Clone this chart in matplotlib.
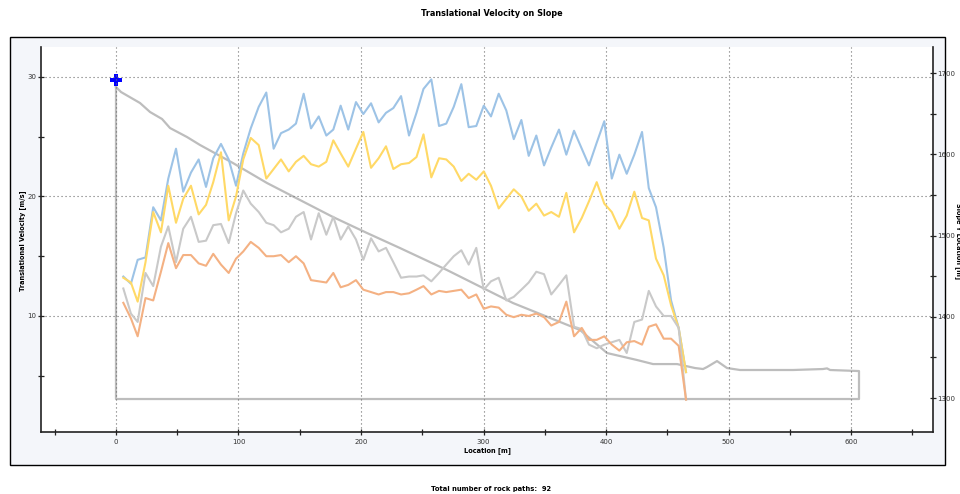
import matplotlib
matplotlib.use("Agg")
import matplotlib.pyplot as plt
from matplotlib.patches import Rectangle
import numpy as np

plt.rcParams['font.family'] = ['DejaVu Sans']

# ---- data ----
location = [6.0, 12.2, 17.7, 24.1, 30.4, 36.7, 42.7, 49.0, 54.9, 61.2,
            67.5, 73.5, 79.4, 85.7, 92.0, 98.0, 103.9, 110.0, 116.5, 122.7,
            128.7, 134.7, 141.0, 146.9, 153.2, 159.2, 165.5, 171.7, 177.4, 183.4,
            189.6, 195.9, 201.9, 208.2, 214.4, 220.4, 226.4, 232.7, 239.2, 245.3,
            251.0, 257.4, 263.7, 269.6, 275.7, 281.9, 287.9, 294.1, 300.2, 306.1,
            312.4, 318.6, 324.7, 330.9, 336.9, 343.1, 349.4, 355.3, 361.6, 367.6,
            373.9, 380.2, 386.1, 392.4, 398.6, 404.7, 410.9, 416.9, 423.1, 429.4,
            434.9, 440.8, 447.1, 453.1, 459.3, 465.3]

vel_blue = [13.3, 12.7, 14.7, 14.9, 19.1, 18.0, 21.5, 24.0, 20.4, 22.0,
            23.1, 20.8, 23.2, 24.4, 23.1, 20.9, 23.6, 25.7, 27.5, 28.7,
            24.0, 25.3, 25.6, 26.1, 28.6, 25.7, 26.7, 25.1, 25.6, 27.6,
            25.6, 27.9, 26.9, 27.8, 26.2, 27.0, 27.4, 28.4, 25.1, 27.0,
            29.0, 29.8, 25.9, 26.1, 27.5, 29.4, 25.8, 25.9, 27.6, 26.7,
            28.6, 27.2, 24.8, 26.4, 23.4, 25.1, 22.6, 24.1, 25.6, 23.5,
            25.5, 24.0, 22.6, 24.5, 26.3, 21.5, 23.5, 21.9, 23.5, 25.4,
            20.7, 19.1, 15.7, 11.3, 9.0, 5.3]

vel_yellow = [13.2, 12.8, 11.2, 14.5, 18.7, 17.0, 20.9, 17.8, 19.8, 20.9,
              18.5, 19.3, 21.2, 23.7, 18.0, 20.0, 23.1, 24.9, 24.3, 21.5,
              22.3, 23.1, 22.1, 22.9, 23.4, 22.7, 22.5, 22.9, 24.7, 23.6,
              22.5, 24.0, 25.4, 22.4, 23.2, 24.2, 22.3, 22.7, 22.8, 23.3,
              25.2, 21.6, 23.2, 23.1, 22.5, 21.3, 21.9, 21.4, 22.1, 20.9,
              19.0, 19.8, 20.6, 20.0, 18.8, 19.4, 18.4, 18.7, 18.3, 20.3,
              17.0, 18.2, 19.6, 21.2, 19.4, 18.7, 17.3, 18.4, 20.4, 18.2,
              18.0, 14.8, 13.4, 10.9, 9.0, 5.3]

vel_gray = [12.3, 10.2, 9.5, 13.6, 12.5, 15.8, 17.5, 14.5, 17.3, 18.3,
            16.2, 16.3, 17.6, 17.7, 16.1, 18.6, 20.5, 19.4, 18.7, 17.8,
            17.6, 17.0, 17.3, 18.3, 18.7, 16.4, 18.6, 16.8, 18.3, 16.4,
            17.5, 16.4, 14.7, 16.5, 15.4, 15.7, 14.5, 13.2, 13.3, 13.3,
            13.4, 12.9, 13.6, 14.3, 15.0, 15.5, 14.3, 15.7, 12.2, 12.9,
            13.2, 11.3, 11.6, 12.2, 12.8, 13.7, 13.5, 11.8, 12.6, 13.4,
            9.1, 8.9, 7.6, 7.3, 7.6, 7.8, 8.0, 6.9, 9.5, 9.7,
            12.1, 10.8, 10.0, 10.0, 9.0, 3.0]

vel_orange = [11.1, 9.8, 8.3, 11.5, 11.3, 13.7, 16.1, 14.0, 15.1, 15.1,
              14.4, 14.2, 15.2, 14.3, 13.6, 14.8, 15.4, 16.2, 15.7, 15.0,
              15.0, 15.1, 14.5, 15.0, 14.4, 13.0, 12.9, 12.8, 13.6, 12.4,
              12.6, 13.0, 12.2, 12.0, 11.8, 12.0, 12.0, 11.8, 11.9, 12.2,
              12.5, 11.8, 12.1, 12.0, 12.1, 12.2, 11.5, 11.8, 10.6, 10.8,
              10.7, 10.1, 9.9, 10.1, 10.0, 10.2, 9.9, 9.2, 9.5, 11.2,
              8.3, 9.0, 8.0, 8.0, 8.3, 7.6, 7.1, 7.8, 7.9, 7.6,
              9.1, 9.3, 8.1, 8.1, 7.5, 3.0]

slope_loc = [0, 4.1, 19.6, 27.8, 37.6, 44.1, 58.0, 68.6, 95.5, 123.3,
             150.2, 177.1, 204.9, 231.8, 270.2, 324.1, 378.8, 400.8, 425.3, 438.4,
             458.0, 472.7, 479.2, 482.4, 490.6, 498.8, 509.4, 552.7, 577.1, 580.4,
             582.9, 606.5]
slope_elev = [1682.8, 1676.6, 1663.1, 1652.0, 1643.4, 1632.3, 1621.2, 1611.4, 1589.2, 1564.6,
              1543.7, 1522.8, 1503.1, 1484.6, 1457.5, 1416.9, 1383.7, 1355.4, 1346.8, 1341.8,
              1341.8, 1336.9, 1335.7, 1338.1, 1345.5, 1336.9, 1334.5, 1334.5, 1335.7, 1336.5,
              1334.5, 1333.2]
slope_base = 1298.8
start_loc = 0.0
start_elev = 1691.4

title = "Translational Velocity on Slope"
footer = "Total number of rock paths:  92"
xlabel = "Location [m]"
ylabel_left = "Translational Velocity [m/s]"
ylabel_right = "Slope Y Location [m]"

# ---- figure ----
W, H = 960, 494
fig = plt.figure(figsize=(W / 100, H / 100), dpi=100)
fig.patch.set_facecolor('white')
fig.patches.append(Rectangle((10 / W, 1 - 465 / H), 935 / W, 428 / H,
                             transform=fig.transFigure, facecolor='#F4F6FA',
                             edgecolor='black', linewidth=1.0, zorder=0))

ax = fig.add_axes([41 / W, 1 - 432 / H, (933 - 41) / W, (432 - 47) / H])
ax2 = ax.twinx()
ax.set_zorder(2)
ax2.set_zorder(1)
ax.patch.set_visible(False)
ax2.patch.set_visible(True)
ax2.patch.set_facecolor('white')

# slope outline (right axis)
sx = [start_loc] + slope_loc[1:] + [slope_loc[-1], start_loc, start_loc]
sy = slope_elev + [slope_base, slope_base, slope_elev[0]]
ax2.plot(sx, sy, color='#BDBDBD', lw=1.6, solid_joinstyle='round')

# velocity lines (left axis)
lw = 1.5
ax.plot(location, vel_blue, color='#9DC3E6', lw=lw)
ax.plot(location, vel_yellow, color='#FFD966', lw=lw)
ax.plot(location, vel_gray, color='#C9C9C9', lw=lw)
ax.plot(location, vel_orange, color='#F4B183', lw=lw)

ax2.plot([start_loc], [start_elev], marker='P', color='#0000FF',
         markersize=8, markeredgewidth=0, zorder=5)

ax.set_xlim(-61.2, 666.9)
ax.set_ylim(0.29, 32.51)
ax2.set_ylim(1258.2, 1732.0)

ax.set_xticks(np.arange(0, 601, 100))
ax.set_xticks(np.arange(-50, 651, 100), minor=True)
ax.set_yticks([10, 20, 30])
ax.set_yticks([5, 15, 25], minor=True)
ax2.set_yticks([1300, 1400, 1500, 1600, 1700])
ax2.set_yticks([1350, 1450, 1550, 1650], minor=True)

ax.grid(which='major', color='#6E6E6E', linestyle=(0, (1, 2.6)), linewidth=0.8)

for a in (ax, ax2):
    for s in a.spines.values():
        s.set_visible(False)
ax.spines['left'].set_visible(True)
ax.spines['bottom'].set_visible(True)
ax2.spines['right'].set_visible(True)
for s in (ax.spines['left'], ax.spines['bottom'], ax2.spines['right']):
    s.set_color('#222222')
    s.set_linewidth(1.2)

tick_kw = dict(direction='inout', length=4, width=0.9, color='#222222',
               labelsize=5.0, labelcolor='#333333')
ax.tick_params(axis='both', which='both', **tick_kw)
ax.tick_params(axis='x', which='both', pad=3)
ax.tick_params(axis='y', which='both', pad=1.5)
ax2.tick_params(axis='y', which='both', pad=1.0, **tick_kw)

fig.text(492 / W, 1 - 14 / H, title, ha='center', va='center',
         fontsize=5.9, fontweight='bold')
fig.text(491 / W, 1 - 489 / H, footer, ha='center', va='center',
         fontsize=4.9, fontweight='bold')
fig.text(488 / W, 1 - 451 / H, xlabel, ha='center', va='center',
         fontsize=4.8, fontweight='bold')
fig.text(23 / W, 1 - 241 / H, ylabel_left, ha='center', va='center',
         rotation=90, fontsize=4.7, fontweight='bold')
fig.text(958 / W, 1 - 241 / H, ylabel_right, ha='center', va='center',
         rotation=270, fontsize=4.7, fontweight='bold')

fig.savefig('out.png', dpi=100)
